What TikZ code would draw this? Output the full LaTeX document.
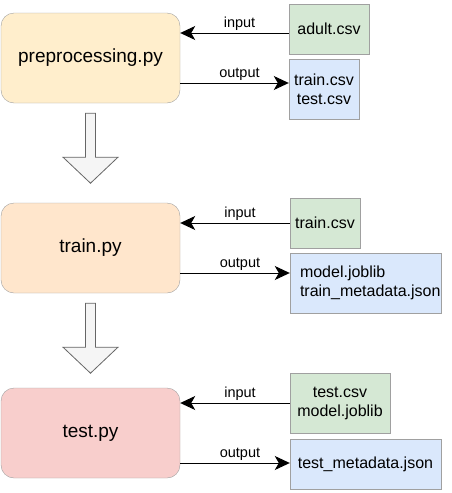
\documentclass[tikz,border=0pt]{standalone}
\usepackage{fontspec}
\setmainfont{Liberation Sans}
\usetikzlibrary{arrows.meta,calc}
\definecolor{prepfill}{HTML}{FFEECC}
\definecolor{trainfill}{HTML}{FFE6CC}
\definecolor{testfill}{HTML}{F8CECC}
\definecolor{infill}{HTML}{D5E8D4}
\definecolor{outfill}{HTML}{DAE8FC}
\definecolor{edgegray}{HTML}{A0A0A0}
\tikzset{
  script/.style={rectangle,rounded corners=13pt,draw=edgegray,
                 minimum width=179pt,minimum height=90pt,
                 font=\fontsize{19}{23}\selectfont},
  file/.style={rectangle,draw=edgegray,inner sep=0pt,align=center,
               font=\fontsize{16}{19}\selectfont},
  flow/.style={-{Stealth[length=15pt,width=14pt,inset=4pt]},line width=1pt},
  flowlabel/.style={above,inner sep=2pt,xshift=5pt,font=\fontsize{14.5}{17}\selectfont},
  bigarrow/.style={draw=black!60,fill=black!4,line width=0.8pt,line join=miter}
}

\begin{document}
\begin{tikzpicture}[x=1pt,y=-1pt]
  \useasboundingbox (0,0) rectangle (451,493);

  % scripts
  \node[script, fill=prepfill] (prep) at (90.5,58) {preprocessing.py};
  \node[script, fill=trainfill] (train) at (90.5,248) {train.py};
  \node[script, fill=testfill] (test) at (90.5,433) {test.py};

  % files
  \node[file, fill=infill, minimum width=80pt, minimum height=50pt] (prepin) at (329,29) {adult.csv};
  \node[file, fill=outfill, minimum width=70pt, minimum height=60pt] (prepout) at (324,89) {train.csv\\test.csv};
  \node[file, fill=infill, minimum width=70pt, minimum height=50pt] (trainin) at (325,223) {train.csv};
  \node[file, fill=outfill, minimum width=151pt, minimum height=60pt, align=left, text width=131pt] (trainout) at (365.5,283) {model.joblib\\train\_metadata.json};
  \node[file, fill=infill, minimum width=100pt, minimum height=60pt] (testin) at (340,403) {test.csv\\model.joblib};
  \node[file, fill=outfill, minimum width=151pt, minimum height=50pt] (testout) at (365.5,464) {test\_metadata.json};

  % input / output connectors
  \foreach \s/\d in {prep/25,train/25,test/30}{
    \coordinate (\s-in) at ([yshift=\d pt]\s.east);
    \coordinate (\s-out) at ([yshift=-\d pt]\s.east);
    \draw[flow] (\s-in -| \s in.west) -- node[flowlabel] {input} (\s-in);
    \draw[flow] (\s-out) -- node[flowlabel] {output} (\s-out -| \s out.west);
  }

  % block arrows between steps
  \foreach \a in {prep,train}{
    \coordinate (\a-top) at ($(\a.south)+(0,10)$);
    \draw[bigarrow] ($(\a-top)+(-5,0)$) -- ++(10,0) -- ++(0,44) -- ++(22.5,0)
      -- ($(\a-top)+(0,70)$) -- ($(\a-top)+(-27.5,44)$) -- ++(22.5,0) -- cycle;
  }
\end{tikzpicture}
\end{document}
